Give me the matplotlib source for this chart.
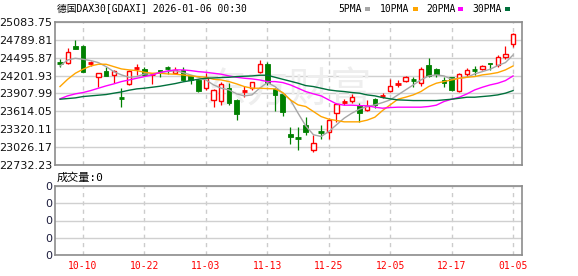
import numpy as np
import matplotlib.pyplot as plt
from matplotlib.patches import Rectangle

# daily candles, 2025-10-07 .. 2026-01-05
opens = [24405, 24405, 24690, 24695, 24400, 24186, 24279, 24214, 23835, 24060,
         24320, 24307, 24225, 24296, 24336, 24252, 24296, 24197, 24131, 24006,
         23803, 23792, 23995, 23803, 23945, 24006, 24268, 24389, 23978, 23902,
         23245, 23178, 23393, 22971, 23269, 23267, 23595, 23765, 23792, 23721,
         23639, 23814, 23863, 23951, 24060, 24115, 24135, 24077, 24378, 24307,
         24131, 24175, 23956, 24225, 24298, 24318, 24405, 24378, 24515, 24717]
highs = [24470, 24651, 24788, 24706, 24449, 24241, 24350, 24290, 23995, 24296,
         24389, 24350, 24241, 24300, 24361, 24350, 24350, 24214, 24142, 24252,
         23978, 24104, 24077, 23814, 24033, 24104, 24460, 24432, 23995, 23924,
         23365, 23365, 23529, 23228, 23393, 23502, 23748, 23814, 23902, 23748,
         23803, 23830, 23924, 24142, 24131, 24197, 24175, 24340, 24487, 24323,
         24186, 24186, 24241, 24334, 24367, 24378, 24416, 24542, 24690, 24898]
lows = [24350, 24389, 24635, 24268, 24361, 24022, 24203, 24077, 23694, 24044,
        24214, 24197, 24066, 24175, 24230, 24230, 24115, 24060, 23940, 23967,
        23683, 23721, 23721, 23464, 23858, 23967, 24252, 24044, 23628, 23540,
        23081, 22982, 23228, 22938, 23157, 23157, 23447, 23721, 23748, 23447,
        23612, 23666, 23830, 23940, 24022, 24099, 24022, 24033, 24175, 24186,
        24022, 23956, 23934, 24186, 24214, 24296, 24296, 24350, 24471, 24668]
closes = [24400, 24597, 24635, 24268, 24410, 24241, 24203, 24279, 23828, 24279,
          24326, 24214, 24231, 24241, 24330, 24296, 24131, 24131, 23956, 24159,
          23967, 24060, 23748, 23573, 23952, 24093, 24389, 24088, 23885, 23606,
          23190, 23172, 23283, 23092, 23265, 23475, 23732, 23775, 23847, 23595,
          23710, 23721, 23870, 24033, 24068, 24175, 24128, 24307, 24197, 24230,
          24088, 23967, 24225, 24296, 24293, 24361, 24385, 24504, 24553, 24881]

ma5 = [24361, 24460, 24487, 24471, 24449, 24416, 24350, 24268, 24214, 24175,
       24186, 24230, 24230, 24252, 24268, 24285, 24252, 24214, 24175, 24131,
       24049, 23995, 23967, 23902, 23869, 23885, 23995, 24088, 24022, 23913,
       23803, 23584, 23376, 23230, 23201, 23283, 23393, 23502, 23584, 23650,
       23694, 23721, 23759, 23803, 23885, 23967, 24049, 24131, 24197, 24214,
       24197, 24142, 24159, 24175, 24230, 24268, 24307, 24367, 24416, 24542]
ma10 = [24022, 24142, 24241, 24307, 24361, 24389, 24389, 24350, 24312, 24296,
        24285, 24257, 24241, 24241, 24230, 24225, 24214, 24197, 24186, 24175,
        24142, 24131, 24104, 24066, 24022, 23995, 23995, 23989, 23984, 23924,
        23803, 23721, 23694, 23612, 23529, 23486, 23464, 23442, 23442, 23442,
        23470, 23518, 23628, 23721, 23814, 23847, 23885, 23940, 24022, 24077,
        24104, 24131, 24159, 24175, 24186, 24214, 24230, 24252, 24296, 24361]
ma20 = [23820, 23869, 23902, 23924, 23956, 23995, 24033, 24066, 24104, 24131,
        24159, 24186, 24214, 24252, 24279, 24296, 24296, 24285, 24268, 24257,
        24241, 24225, 24197, 24175, 24159, 24148, 24131, 24104, 24104, 24088,
        24049, 23995, 23940, 23902, 23869, 23803, 23737, 23716, 23716, 23710,
        23705, 23683, 23666, 23677, 23683, 23683, 23683, 23683, 23694, 23716,
        23776, 23814, 23847, 23902, 23967, 24011, 24049, 24077, 24120, 24197]
ma30 = [23814, 23825, 23836, 23858, 23869, 23880, 23891, 23913, 23934, 23962,
        23984, 23995, 24011, 24027, 24049, 24071, 24099, 24120, 24142, 24159,
        24164, 24170, 24175, 24186, 24192, 24197, 24208, 24208, 24175, 24142,
        24110, 24077, 24038, 24022, 23995, 23967, 23951, 23940, 23924, 23913,
        23885, 23869, 23841, 23820, 23803, 23798, 23792, 23792, 23792, 23792,
        23803, 23814, 23830, 23847, 23847, 23858, 23869, 23885, 23913, 23956]

tick_idx = [3, 11, 19, 27, 35, 43, 51, 59]
tick_labels = ['10-10', '10-22', '11-03', '11-13', '11-25', '12-05', '12-17', '01-05']
price_ticks = [22732.23, 23026.17, 23320.11, 23614.05, 23907.99,
               24201.93, 24495.87, 24789.81, 25083.75]

RED = '#ff0000'
GREEN = '#008000'
ma_colors = ['#a6a6a6', '#ffa500', '#ff00ff', '#00703c']
ma_names = ['5PMA', '10PMA', '20PMA', '30PMA']
MONO = ['DejaVu Sans Mono', 'Noto Sans CJK SC']

W, H = 578, 276
fig = plt.figure(figsize=(W / 100, H / 100), dpi=100)


def box(l, t, r, b):
    return [l / W, 1 - b / H, (r - l) / W, (b - t) / H]


ax = fig.add_axes(box(55, 22, 522, 165))
axv = fig.add_axes(box(55, 186, 522, 255))

for a in (ax, axv):
    a.set_xlim(-0.65, 60.16)
    a.set_axisbelow(True)
    for s in a.spines.values():
        s.set_color('#8c8c8c')
        s.set_linewidth(1.2)
    a.set_xticks(tick_idx)
    a.grid(axis='y', color='#d0d0d0', lw=1, ls='-')
    a.grid(axis='x', color='#cccccc', lw=1, ls=(0, (3, 3)))
    a.tick_params(length=0, pad=2, labelsize=8, labelcolor='#111111')

# candles
for i in range(len(closes)):
    o, h, l, c = opens[i], highs[i], lows[i], closes[i]
    up = c >= o
    col = RED if up else GREEN
    top, bot = max(o, c), min(o, c)
    if top - bot < 12:
        ax.vlines(i, l, h, color=col, lw=0.9, zorder=3)
        ax.hlines((o + c) / 2, i - 0.34, i + 0.34, color=col, lw=2, zorder=3)
        continue
    ax.vlines(i, top, h, color=col, lw=0.9, zorder=3)
    ax.vlines(i, l, bot, color=col, lw=0.9, zorder=3)
    if up:
        ax.add_patch(Rectangle((i - 0.28, bot), 0.56, top - bot, fc='white',
                               ec=RED, lw=1, zorder=3))
    else:
        ax.add_patch(Rectangle((i - 0.3, bot), 0.6, top - bot, fc=GREEN,
                               ec=GREEN, lw=0.6, zorder=3))

x = np.arange(len(closes))
for vals, col in zip([ma5, ma10, ma20, ma30], ma_colors):
    ax.plot(x, vals, color=col, lw=1, zorder=4)

ax.set_ylim(22732.23, 25083.75)
ax.set_yticks(price_ticks, [f'{v:.2f}' for v in price_ticks])
ax.tick_params(axis='x', labelbottom=False)

# watermark
ax.text(0.5, 0.52, '东方财富', transform=ax.transAxes, fontsize=30,
        color='#eeeeee', family='Noto Sans CJK SC', ha='center', va='center',
        zorder=0.8)

# volume panel (empty)
axv.set_ylim(0, 4)
axv.set_yticks([0, 1, 2, 3, 4], ['0'] * 5)
axv.tick_params(axis='y', labelcolor='#1c1c3c')
axv.set_xticklabels(tick_labels)
axv.tick_params(axis='x', labelcolor=RED, pad=4)
for t in axv.get_xticklabels():
    t.set_fontfamily('DejaVu Sans Mono')
    t.set_fontsize(7)

# header texts
fig.text(57 / W, 1 - 8 / H, '德国DAX30[GDAXI] 2026-01-06 00:30', family=MONO,
         fontsize=7, va='center', ha='left')
fig.text(57 / W, 1 - 178 / H, '成交量:0', family=MONO, fontsize=8,
         va='center', ha='left')

leg_x = [338, 380, 426, 472]
mark_x = [365, 413, 458, 505]
for name, col, lx, mx in zip(ma_names, ma_colors, leg_x, mark_x):
    fig.text(lx / W, 1 - 9 / H, name, family=MONO, fontsize=7,
             va='center', ha='left')
    fig.add_artist(Rectangle((mx / W, 1 - 10.5 / H), 5 / W, 3 / H, fc=col,
                             ec='none', transform=fig.transFigure))

fig.savefig('out.png', dpi=100)
